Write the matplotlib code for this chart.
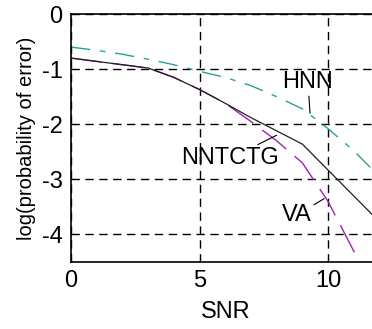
import numpy as np
import matplotlib
matplotlib.use("Agg")
import matplotlib.pyplot as plt

plt.rcParams['font.family'] = ['Liberation Sans', 'DejaVu Sans']

# values
snr = [0, 1, 2, 3, 4, 5, 6, 7, 8, 9, 10, 11, 12]
hnn = [-0.6, -0.66, -0.73, -0.82, -0.92, -1.04, -1.15, -1.3, -1.5, -1.72, -2.08, -2.48, -2.95]
nntctg = [-0.8, -0.86, -0.92, -0.98, -1.15, -1.37, -1.62, -1.88, -2.12, -2.36, -2.83, -3.3, -3.77]
va = [-0.8, -0.86, -0.92, -0.98, -1.15, -1.37, -1.62, -1.95, -2.3, -2.7, -3.4, -4.3, -5.0]

xticks = [0, 5, 10]
yticks = [0, -1, -2, -3, -4]

fig = plt.figure(figsize=(3.72, 3.29), dpi=100)
ax = fig.add_axes([0.1909, 0.2036, 0.829, 0.7538])

ax.plot(snr, hnn, color='#2a9f9f', lw=1.0, dashes=(14, 7, 4, 7))
ax.plot(snr, va, color='#a020b0', lw=1.0, dashes=(22, 8))
ax.plot(snr, nntctg, color='#202020', lw=0.9)

ax.set_xlim(0, 12)
ax.set_ylim(-4.5, 0)
ax.set_xticks(xticks)
ax.set_yticks(yticks)
ax.set_yticklabels([str(t) for t in yticks])
ax.grid(True, color='black', lw=1.0, linestyle=(0, (6, 4)))
ax.tick_params(direction='in', length=3, labelsize=17, pad=6)
for s in ax.spines.values():
    s.set_linewidth(1.2)
ax.spines['right'].set_visible(False)

ax.set_xlabel('SNR', fontsize=17, labelpad=6)
ax.set_ylabel('log(probability of error)', fontsize=14.5, labelpad=4)

arrow = dict(arrowstyle='-', color='black', lw=0.8, shrinkA=0, shrinkB=0)
ax.annotate('HNN', xy=(9.3, -1.8), xytext=(9.22, -1.24), fontsize=17,
            ha='center', va='center', arrowprops=arrow)
ax.annotate('NNTCTG', xy=(8.0, -2.2), xytext=(6.19, -2.62), fontsize=17,
            ha='center', va='center', arrowprops=arrow)
ax.annotate('VA', xy=(9.85, -3.35), xytext=(8.77, -3.65), fontsize=17,
            ha='center', va='center', arrowprops=arrow)

fig.savefig('out.png', dpi=100)
